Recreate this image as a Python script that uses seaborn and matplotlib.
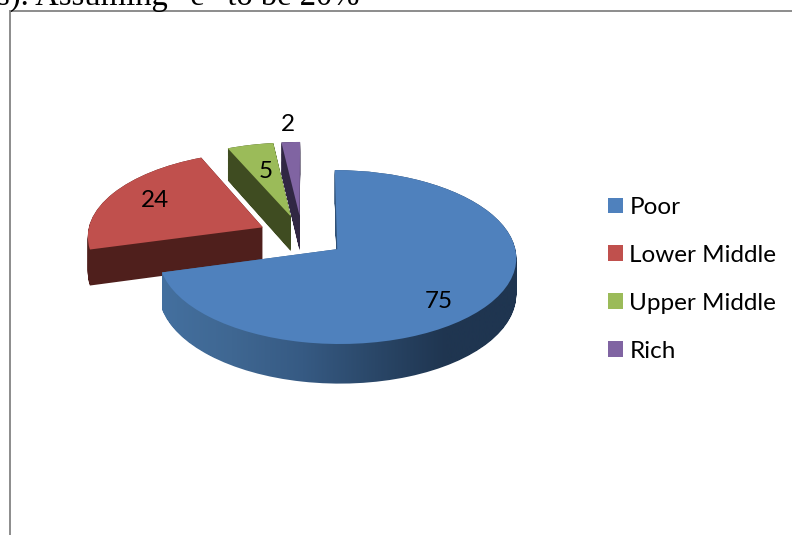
import numpy as np
import matplotlib
matplotlib.use("Agg")
import matplotlib.pyplot as plt
import seaborn as sns
from matplotlib.colors import LinearSegmentedColormap
from matplotlib.patches import PathPatch, Patch
from matplotlib.path import Path
from matplotlib.transforms import Transform

# ---- data ----
categories = ["Poor", "Lower Middle", "Upper Middle", "Rich"]
values = [75, 24, 5, 2]
explode = [0.25, 0.25, 0.25, 0.25]
top_colors = ["#4f81bd", "#c0504d", "#9bbb59", "#8064a2"]
side_colors = ["#2f5278", "#4f1f1c", "#3f4c21", "#312743"]
label_radii = [0.78, 0.73, 0.61, 1.27]
label_angle_shift = [-9.7, -1.8, 0.0, 0.3]
gradient_colors = ["#44709f", "#3f6792", "#365a83", "#2a4768", "#1f3550", "#1f3550"]

# ---- layout ----
W, H = 792, 535
ORIGIN = (337.5, 249.0)
RX, RY, PERSP, SHEAR = 178.0, 86.2, 0.0909, -2.5
DEPTH = 36.5
PIE_CENTER = (-0.2, 0.15)

sns.set_theme(style="white")
plt.rcParams["font.family"] = ["Lato", "DejaVu Sans"]
palette = sns.color_palette(top_colors)


class Tilt(Transform):
    """Perspective view of the pie's plane, at a given depth below it."""
    input_dims = output_dims = 2

    def __init__(self, height=0.0):
        super().__init__()
        self.height = height

    def transform_non_affine(self, xy):
        xy = np.asarray(xy, float)
        w = 1 + PERSP * xy[:, 1]
        return np.column_stack([
            ORIGIN[0] + RX * xy[:, 0] / w + SHEAR * xy[:, 1],
            ORIGIN[1] - RY * xy[:, 1] / w + self.height / w,
        ])


fig = plt.figure(figsize=(W / 100, H / 100), dpi=100)
ax = fig.add_axes([0, 0, 1, 1])

wedges, _ = ax.pie(values, explode=explode, colors=palette, startangle=90,
                   counterclock=False, center=PIE_CENTER, frame=False,
                   wedgeprops={"linewidth": 0})
ax.set_aspect("auto")
ax.set_xlim(0, W)
ax.set_ylim(H, 0)
ax.axis("off")

# slices drawn back to front: Rich, Upper, Lower, Poor
order = {0: 10, 1: 8, 2: 6, 3: 4}
for i, wedge in enumerate(wedges):
    layers = []
    for h in np.arange(0, DEPTH + 0.5, 1.0):
        tf = wedge.get_patch_transform() + Tilt(h)
        layers.append(tf.transform_path(wedge.get_path()))
    side = Path.make_compound_path(*layers)
    if i == 0:
        clip = PathPatch(side, facecolor="none", edgecolor="none",
                         transform=ax.transData)
        ax.add_patch(clip)
        cmap = LinearSegmentedColormap.from_list("side", gradient_colors)
        im = ax.imshow(np.linspace(0, 1, 256)[None, :], cmap=cmap, aspect="auto",
                       extent=(160, 518, H, 0), zorder=order[i] - 1)
        im.set_clip_path(clip)
    else:
        ax.add_patch(PathPatch(side, facecolor=side_colors[i], edgecolor="none",
                               linewidth=0, zorder=order[i] - 1))
    wedge.set_transform(Tilt() + ax.transData)
    wedge.set_zorder(order[i])
ax.set_aspect("auto")
ax.set_xlim(0, W)
ax.set_ylim(H, 0)

# data labels
tilt = Tilt() + ax.transData
for wedge, val, lr, da, e in zip(wedges, values, label_radii, label_angle_shift, explode):
    mid = np.deg2rad((wedge.theta1 + wedge.theta2) / 2)
    a = np.deg2rad((wedge.theta1 + wedge.theta2) / 2 + da)
    ax.text(PIE_CENTER[0] + e * np.cos(mid) + lr * np.cos(a),
            PIE_CENTER[1] + e * np.sin(mid) + lr * np.sin(a),
            str(val), transform=tilt, ha="center", va="center",
            fontsize=17.5, color="black", zorder=20)

# legend
handles = [Patch(facecolor=c, edgecolor="none") for c in palette]
ax.legend(handles, categories, loc="center left", bbox_to_anchor=(0.7676, 0.478),
          frameon=False, fontsize=17.5, handlelength=0.62, handleheight=0.62,
          handletextpad=0.26, labelspacing=1.105, borderpad=0, borderaxespad=0,
          labelcolor="black")

# chart frame (the lower and right edges fall outside the crop)
ax.plot([10, 10, W], [H, 11, 11], color="#8c8c8c", lw=1.4, solid_joinstyle="miter", zorder=30)

# cut-off line of surrounding document text
ax.text(-3, 5, "s). Assuming \u201ce\u201d to be 20%", family="Liberation Serif",
        fontsize=23.5, color="black", ha="left", va="baseline", zorder=31)

fig.savefig("out.png", dpi=100, facecolor="white")
